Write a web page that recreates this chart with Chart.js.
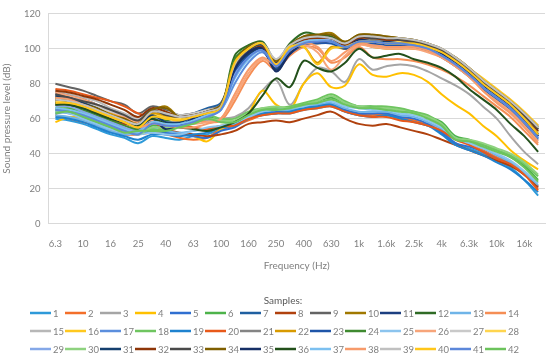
<!DOCTYPE html>
<html>
<head>
<meta charset="utf-8">
<script src="https://cdn.jsdelivr.net/npm/chart.js@4.4.1/dist/chart.umd.min.js"></script>
<style>
  body { margin: 0; background: #fff; }
  canvas { display: block; }
</style>
</head>
<body>
<canvas id="chart" width="550" height="360"></canvas>
<script>
// third-octave bands, 6.3 Hz .. 20 kHz
const categories = ['6.3', '8', '10', '12.5', '16', '20', '25', '31.5', '40', '50', '63', '80', '100', '125',
  '160', '200', '250', '315', '400', '500', '630', '800', '1k', '1.25k', '1.6k', '2k', '2.5k', '3.15k',
  '4k', '5k', '6.3k', '8k', '10k', '12.5k', '16k', '20k'];

const yTicks = [0, 20, 40, 60, 80, 100, 120];

const sample1 = [60, 59, 57, 54, 51, 49, 46, 50, 49, 48, 50, 51, 54, 56, 60, 62, 63, 63, 65, 66, 67, 64, 62, 62, 62, 60, 59, 56, 53, 46, 43, 40, 36, 32, 25, 16];
const sample2 = [62, 60, 58, 56, 53, 51, 51, 52, 51, 49, 48, 49, 54, 56, 59, 62, 64, 64, 66, 67, 68, 65, 63, 62, 63, 61, 59, 57, 53, 49, 46, 42, 38, 35, 29, 20];
const sample3 = [66, 65, 63, 61, 58, 56, 54, 58, 56, 57, 58, 59, 60, 61, 66, 76, 82, 68, 80, 89, 87, 81, 94, 88, 90, 91, 90, 87, 83, 79, 74, 67, 60, 50, 41, 34];
const sample4 = [58, 61, 60, 58, 55, 53, 52, 57, 52, 51, 50, 47, 54, 58, 63, 76, 68, 65, 80, 86, 78, 79, 91, 85, 84, 86, 85, 81, 74, 68, 63, 56, 50, 42, 36, 31];
const sample5 = [63, 64, 61, 58, 55, 53, 51, 53, 52, 51, 50, 49, 53, 55, 60, 63, 64, 65, 66, 67, 68, 65, 63, 63, 63, 61, 60, 57, 52, 46, 44, 41, 37, 34, 28, 21];
const sample6 = [65, 66, 63, 60, 57, 54, 52, 56, 55, 56, 58, 61, 59, 58, 62, 65, 66, 66, 68, 70, 72, 69, 67, 67, 66, 65, 64, 61, 58, 50, 48, 45, 42, 38, 33, 25];
const sample7 = [72, 71, 69, 66, 63, 60, 57, 63, 60, 61, 63, 66, 69, 88, 97, 100, 88, 97, 103, 104, 105, 100, 104, 104, 103, 103, 102, 100, 96, 91, 85, 78, 72, 66, 59, 50];
const sample8 = [68, 67, 65, 62, 59, 57, 56, 58, 54, 52, 51, 50, 51, 53, 57, 58, 59, 58, 60, 62, 64, 60, 57, 56, 57, 55, 53, 51, 48, 45, 42, 39, 36, 33, 28, 21];
const sample9 = [80, 78, 76, 73, 70, 68, 63, 67, 65, 62, 63, 65, 68, 90, 99, 102, 92, 100, 105, 106, 106, 102, 107, 106, 105, 105, 104, 102, 98, 93, 87, 80, 74, 68, 61, 53];
const sample10 = [70, 70, 67, 65, 62, 60, 57, 64, 67, 61, 62, 64, 67, 91, 100, 103, 93, 102, 107, 108, 109, 104, 108, 108, 107, 106, 105, 103, 99, 95, 89, 82, 76, 70, 63, 56];
const sample11 = [74, 73, 71, 68, 64, 61, 58, 63, 59, 58, 61, 64, 67, 86, 96, 99, 89, 99, 104, 105, 104, 100, 104, 103, 103, 103, 102, 100, 96, 91, 85, 78, 72, 66, 58, 50];
const sample12 = [69, 69, 66, 63, 60, 58, 55, 62, 55, 57, 60, 63, 66, 96, 102, 104, 93, 103, 109, 108, 107, 103, 107, 107, 106, 105, 104, 102, 98, 94, 88, 81, 75, 69, 62, 54];
const sample13 = [62, 61, 59, 56, 53, 51, 52, 54, 53, 52, 53, 54, 55, 57, 61, 64, 65, 65, 67, 68, 69, 66, 64, 64, 64, 62, 61, 58, 54, 48, 46, 43, 39, 35, 29, 22];
const sample14 = [71, 70, 68, 65, 62, 59, 56, 60, 58, 59, 60, 58, 59, 70, 84, 93, 88, 96, 101, 100, 92, 95, 101, 95, 94, 94, 93, 91, 88, 84, 79, 73, 67, 61, 53, 45];
const sample15 = [76, 74, 72, 70, 66, 63, 60, 65, 64, 62, 63, 64, 66, 90, 100, 103, 92, 101, 106, 106, 105, 103, 107, 107, 106, 106, 105, 103, 99, 95, 89, 82, 76, 70, 63, 55];
const sample16 = [73, 72, 70, 67, 63, 60, 57, 62, 61, 60, 62, 64, 67, 93, 100, 103, 91, 101, 104, 103, 104, 102, 105, 105, 104, 104, 104, 102, 99, 95, 89, 83, 77, 71, 64, 56];
const sample17 = [64, 63, 61, 59, 56, 54, 53, 58, 57, 57, 59, 62, 65, 80, 92, 98, 90, 98, 103, 104, 104, 101, 104, 103, 103, 103, 102, 100, 96, 91, 85, 78, 72, 66, 58, 49];
const sample18 = [66, 67, 64, 61, 57, 53, 55, 54, 54, 56, 58, 62, 60, 60, 64, 66, 66, 67, 69, 71, 74, 70, 67, 67, 67, 66, 64, 62, 57, 49, 47, 45, 42, 39, 34, 27];
const sample19 = [61, 60, 58, 55, 52, 50, 48, 51, 51, 50, 51, 52, 55, 56, 60, 63, 63, 64, 66, 67, 68, 64, 62, 61, 62, 60, 58, 56, 51, 45, 42, 39, 35, 31, 25, 18];
const sample20 = [77, 76, 74, 72, 70, 67, 63, 61, 58, 56, 55, 54, 56, 56, 60, 62, 63, 63, 65, 66, 67, 64, 62, 61, 61, 59, 58, 56, 53, 48, 45, 41, 37, 34, 28, 19];
const sample21 = [75, 73, 71, 68, 65, 62, 59, 64, 63, 62, 63, 65, 68, 89, 98, 101, 90, 99, 104, 105, 105, 101, 105, 105, 104, 104, 103, 101, 97, 93, 87, 80, 74, 68, 61, 52];
const sample22 = [72, 70, 68, 66, 63, 60, 58, 63, 62, 61, 62, 64, 67, 88, 97, 100, 90, 99, 101, 92, 101, 100, 103, 101, 100, 100, 100, 99, 96, 92, 86, 79, 73, 67, 60, 51];
const sample23 = [70, 70, 68, 65, 61, 58, 55, 61, 56, 58, 61, 64, 67, 87, 96, 99, 89, 97, 102, 103, 103, 100, 103, 103, 102, 102, 101, 99, 95, 90, 84, 77, 71, 65, 57, 48];
const sample24 = [68, 68, 65, 62, 59, 56, 54, 61, 59, 57, 60, 63, 66, 94, 101, 103, 92, 102, 106, 106, 105, 102, 106, 106, 105, 105, 104, 102, 98, 94, 88, 81, 75, 69, 62, 54];
const sample25 = [64, 63, 60, 57, 54, 52, 51, 52, 51, 51, 53, 55, 56, 58, 61, 64, 65, 66, 67, 69, 70, 67, 66, 65, 65, 63, 62, 59, 55, 49, 46, 43, 40, 36, 30, 23];
const sample26 = [75, 73, 71, 68, 64, 61, 58, 59, 57, 57, 57, 58, 60, 72, 86, 94, 90, 98, 102, 98, 88, 96, 102, 101, 100, 100, 100, 98, 95, 90, 84, 76, 70, 64, 56, 47];
const sample27 = [73, 72, 70, 67, 64, 62, 60, 66, 64, 62, 63, 65, 67, 91, 99, 102, 94, 102, 105, 106, 106, 103, 106, 106, 105, 105, 104, 102, 98, 94, 88, 81, 75, 69, 62, 54];
const sample28 = [70, 69, 67, 64, 61, 58, 56, 62, 60, 60, 62, 63, 66, 92, 100, 102, 92, 100, 103, 104, 105, 101, 105, 104, 104, 104, 103, 101, 98, 93, 87, 80, 74, 68, 61, 52];
const sample29 = [67, 67, 64, 61, 58, 55, 53, 60, 58, 58, 60, 63, 66, 85, 95, 100, 92, 99, 103, 105, 105, 101, 104, 104, 104, 103, 102, 100, 97, 92, 86, 79, 73, 67, 59, 50];
const sample30 = [64, 65, 62, 59, 56, 53, 51, 55, 55, 56, 58, 60, 59, 59, 63, 66, 67, 66, 68, 70, 73, 69, 67, 66, 66, 65, 63, 61, 57, 49, 48, 46, 43, 40, 35, 28];
const sample31 = [73, 72, 69, 66, 62, 59, 56, 62, 58, 58, 61, 64, 67, 89, 97, 100, 88, 98, 103, 104, 104, 101, 105, 104, 104, 103, 103, 101, 97, 92, 86, 79, 73, 67, 60, 51];
const sample32 = [76, 75, 73, 71, 68, 65, 61, 66, 64, 61, 62, 64, 67, 90, 98, 101, 91, 100, 105, 106, 106, 102, 106, 106, 105, 105, 104, 102, 98, 94, 88, 81, 75, 69, 62, 53];
const sample33 = [74, 72, 70, 68, 65, 62, 59, 65, 62, 61, 62, 64, 67, 90, 99, 102, 92, 101, 106, 107, 106, 103, 107, 106, 106, 105, 104, 102, 99, 94, 88, 81, 75, 69, 62, 54];
const sample34 = [71, 70, 68, 66, 62, 60, 57, 65, 66, 61, 62, 64, 68, 92, 101, 103, 93, 102, 107, 108, 108, 104, 108, 108, 107, 106, 105, 103, 100, 95, 89, 82, 76, 70, 63, 55];
const sample35 = [69, 68, 66, 63, 60, 58, 55, 60, 54, 56, 60, 63, 66, 88, 98, 100, 87, 97, 103, 104, 104, 101, 105, 104, 103, 103, 102, 100, 97, 92, 86, 79, 73, 67, 59, 50];
const sample36 = [68, 68, 66, 63, 60, 58, 56, 60, 57, 55, 54, 53, 55, 58, 63, 73, 83, 78, 93, 89, 87, 92, 100, 95, 96, 97, 94, 92, 89, 84, 77, 71, 65, 57, 50, 41];
const sample37 = [66, 65, 63, 60, 57, 54, 52, 58, 57, 57, 59, 62, 65, 83, 94, 99, 91, 100, 104, 105, 104, 101, 104, 104, 103, 103, 102, 100, 96, 91, 85, 78, 72, 66, 58, 49];
const sample38 = [72, 71, 68, 65, 61, 58, 55, 57, 56, 55, 55, 57, 60, 74, 88, 95, 91, 99, 103, 101, 93, 98, 103, 102, 101, 101, 101, 99, 95, 90, 84, 76, 69, 63, 55, 46];
const sample39 = [71, 70, 68, 65, 62, 59, 57, 64, 63, 61, 62, 64, 67, 91, 100, 103, 94, 102, 106, 107, 106, 103, 107, 107, 106, 106, 105, 103, 100, 95, 89, 82, 76, 70, 63, 55];
const sample40 = [69, 69, 67, 64, 61, 58, 55, 61, 60, 59, 61, 63, 66, 92, 100, 103, 91, 101, 101, 91, 100, 101, 104, 104, 103, 103, 103, 101, 98, 93, 87, 80, 74, 68, 60, 51];
const sample41 = [65, 64, 62, 59, 56, 53, 51, 57, 56, 56, 58, 61, 65, 84, 95, 99, 90, 99, 103, 104, 104, 101, 104, 104, 103, 103, 102, 100, 96, 91, 85, 78, 72, 66, 58, 49];
const sample42 = [63, 64, 61, 58, 55, 52, 53, 53, 53, 55, 57, 60, 58, 58, 62, 65, 65, 66, 68, 69, 71, 68, 66, 66, 65, 64, 63, 60, 56, 48, 47, 44, 41, 38, 32, 24];

const samples = [sample1, sample2, sample3, sample4, sample5, sample6, sample7, sample8, sample9, sample10,
  sample11, sample12, sample13, sample14, sample15, sample16, sample17, sample18, sample19, sample20,
  sample21, sample22, sample23, sample24, sample25, sample26, sample27, sample28, sample29, sample30,
  sample31, sample32, sample33, sample34, sample35, sample36, sample37, sample38, sample39, sample40,
  sample41, sample42];

const sampleNames = samples.map((s, i) => String(i + 1));

// office-style palette, 6 base hues then darker / lighter turns
const sampleColors = [
  '#2E9AD9', '#F36F2A', '#A5A5A5', '#FFC000', '#2F6FD0', '#4DB34A',
  '#1F5FA0', '#B0410E', '#636363', '#A07800', '#1C3F80', '#2F6B25',
  '#6FB4E8', '#F58E55', '#B7B7B7', '#FFC81F', '#5B8EDD', '#6FC560',
  '#1F82CF', '#E8591A', '#848484', '#D89A00', '#1F55A8', '#3F8A30',
  '#8CC4EE', '#F7A57A', '#C9C9C9', '#FFD54F', '#85A8E8', '#8ED27F',
  '#153F6E', '#8E3608', '#4A4A4A', '#7F5F00', '#162F66', '#23501B',
  '#7CC0F0', '#F79B6B', '#C0C0C0', '#FFC61A', '#5C87DA', '#6CC35C'
];

const legendTitle = 'Samples:';

Chart.defaults.font.family = 'Lato, "Open Sans", sans-serif';
Chart.defaults.color = '#7f7f7f';

// excel style legend: 14 fixed-width columns under the axis title
const sampleLegend = {
  id: 'sampleLegend',
  afterDraw(chart) {
    const ctx = chart.ctx;
    ctx.save();
    ctx.textBaseline = 'middle';
    ctx.textAlign = 'center';
    ctx.fillStyle = '#595959';
    ctx.font = '10px Lato, "Open Sans", sans-serif';
    ctx.fillText(legendTitle, 283, 301);
    ctx.textAlign = 'left';
    ctx.font = '9.5px Lato, "Open Sans", sans-serif';
    chart.data.datasets.forEach((ds, i) => {
      const x = 30 + (i % 14) * 35;
      const y = 313 + Math.floor(i / 14) * 18;
      ctx.strokeStyle = ds.borderColor;
      ctx.lineWidth = 2.5;
      ctx.beginPath();
      ctx.moveTo(x, y);
      ctx.lineTo(x + 21, y);
      ctx.stroke();
      ctx.fillStyle = '#7f7f7f';
      ctx.fillText(ds.label, x + 23, y + 0.5);
    });
    ctx.restore();
  }
};

new Chart(document.getElementById('chart'), {
  type: 'line',
  data: {
    labels: categories,
    datasets: samples.map((values, i) => ({
      label: sampleNames[i],
      data: values,
      borderColor: sampleColors[i],
      backgroundColor: sampleColors[i],
      borderWidth: 2,
      pointRadius: 0,
      tension: 0.35,
      fill: false,
      order: samples.length - i
    }))
  },
  options: {
    responsive: false,
    animation: false,
    devicePixelRatio: 1,
    layout: { padding: { top: 12, right: 5, bottom: 84, left: 0 } },
    plugins: {
      legend: { display: false },
      tooltip: { enabled: false }
    },
    scales: {
      x: {
        offset: true,
        grid: { display: false },
        border: { display: true, color: '#d9d9d9' },
        ticks: {
          autoSkip: false,
          maxRotation: 0,
          padding: 7,
          font: { size: 9.5 },
          color: '#7f7f7f',
          callback: function (val, idx) {
            return idx % 2 === 0 ? this.getLabelForValue(val) : '';
          }
        },
        title: { display: true, text: 'Frequency (Hz)', font: { size: 10 }, color: '#7f7f7f', padding: { top: 3, bottom: 4 } }
      },
      y: {
        min: yTicks[0],
        max: yTicks[yTicks.length - 1],
        grid: { color: '#d9d9d9', lineWidth: 1, drawTicks: false },
        border: { display: true, color: '#d9d9d9' },
        ticks: { stepSize: 20, padding: 8, font: { size: 9.5 }, color: '#7f7f7f' },
        title: { display: true, text: 'Sound pressure level (dB)', font: { size: 10 }, color: '#7f7f7f', padding: { top: 1, bottom: 3 } }
      }
    }
  },
  plugins: [sampleLegend]
});
</script>
</body>
</html>
